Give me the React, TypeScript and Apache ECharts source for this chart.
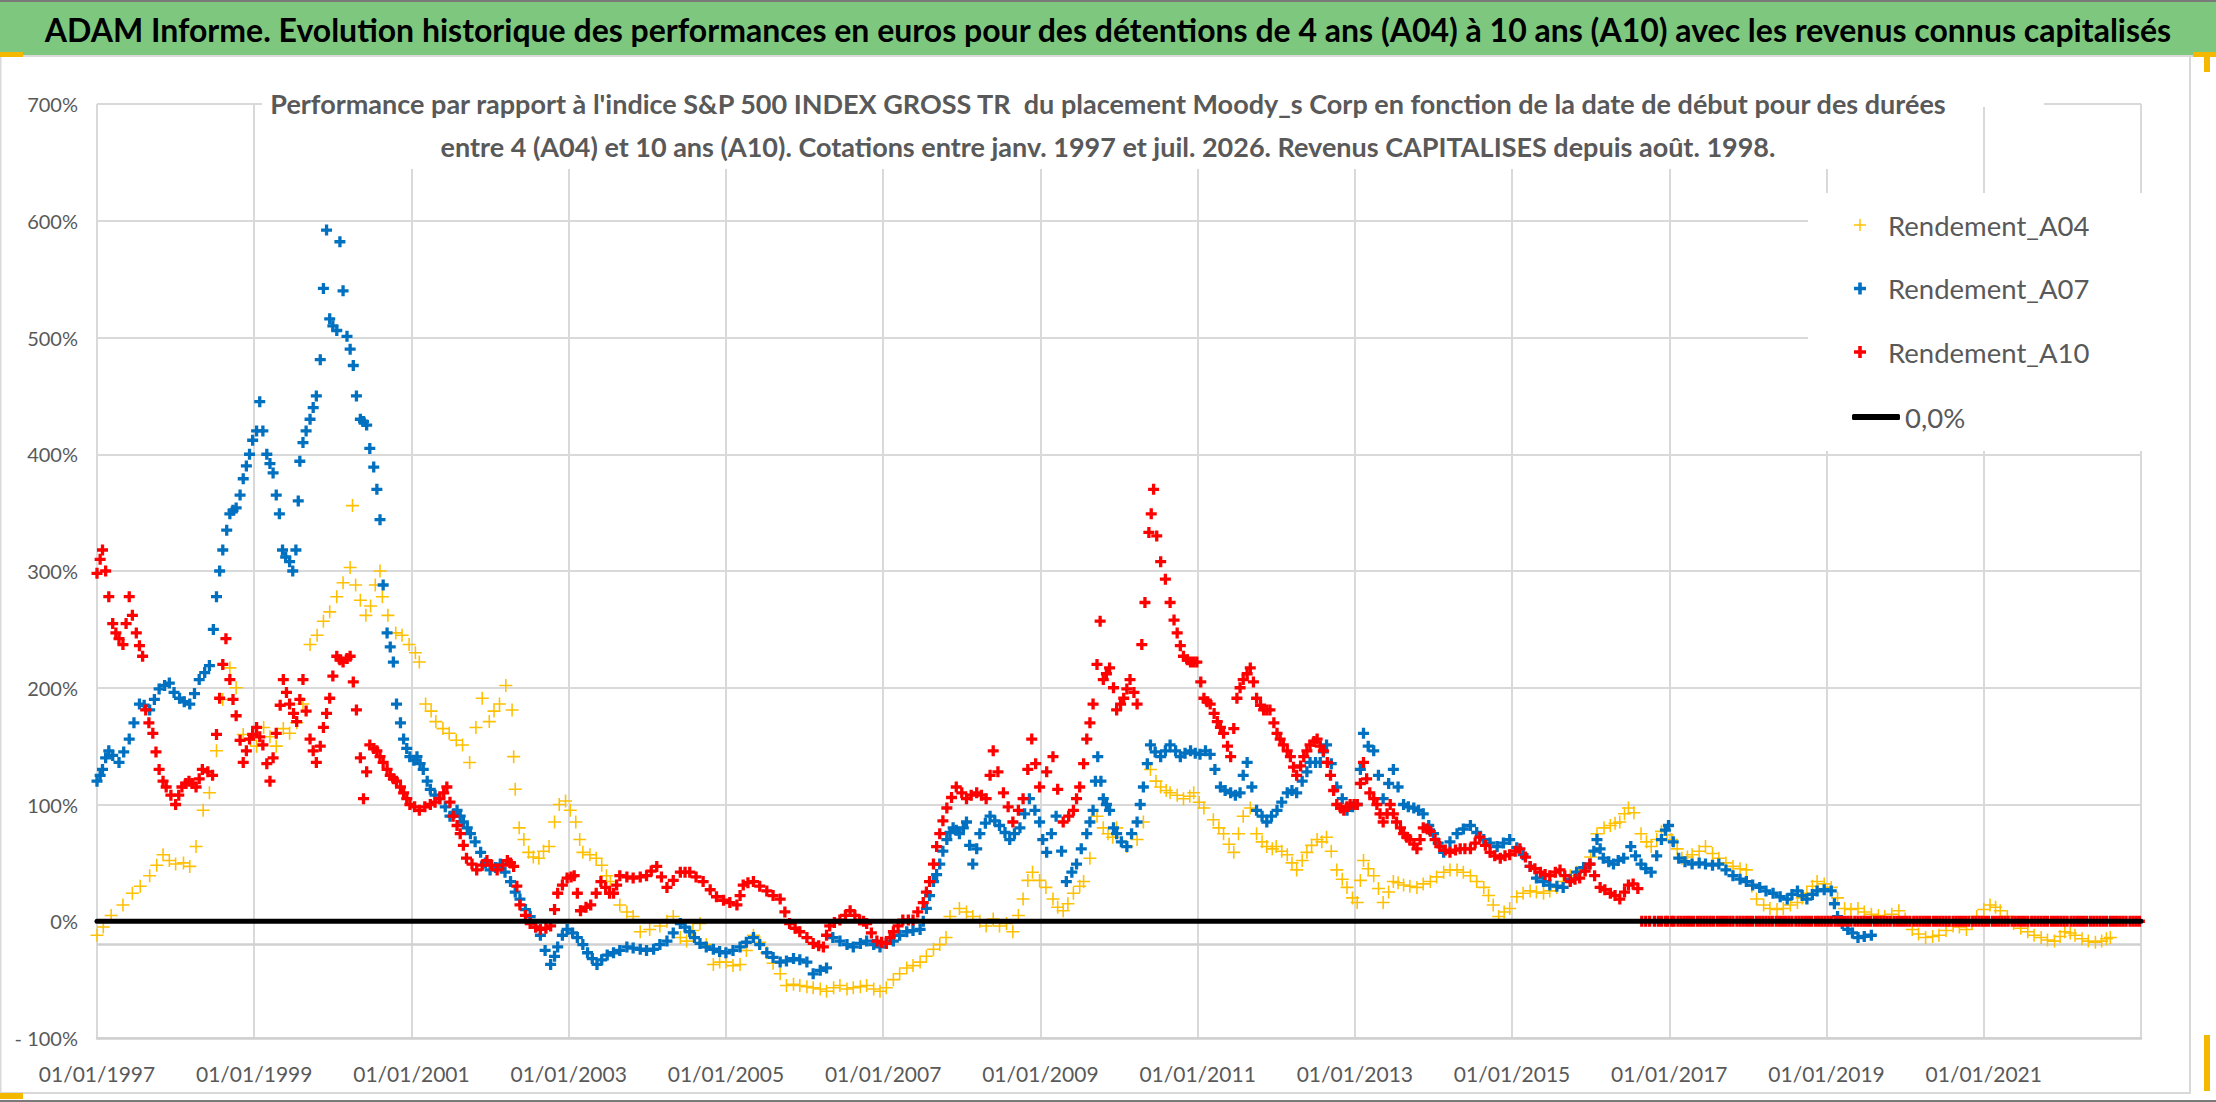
import React, { useEffect, useRef } from "react";
import * as echarts from "echarts";

const FONT = 'Lato, "Noto Sans", "DejaVu Sans", sans-serif';

const mainTitle =
  "ADAM Informe. Evolution historique des performances en euros pour des détentions de 4 ans (A04) à 10 ans (A10) avec les revenus connus capitalisés";
const subTitleLines = [
  "Performance par rapport à l'indice S&P 500 INDEX GROSS TR  du placement Moody_s Corp en fonction de la date de début pour des durées",
  "entre 4 (A04) et 10 ans (A10). Cotations entre janv. 1997 et juil. 2026. Revenus CAPITALISES depuis août. 1998.",
];
const seriesNames = ["Rendement_A04", "Rendement_A07", "Rendement_A10"];
const zeroName = "0,0%";
const colors = ["#FFC000", "#0070C0", "#FF0000"];
const startYear = 1997;
const endYear = 2023;
const yMin = -100;
const yMax = 700;
const yStep = 100;
const refLineValue = -20;

// [years after 01/01/1997, performance %]
const a04 = [
  [0.0,-12],[0.08,-5],[0.18,5],[0.33,14],[0.45,24],[0.55,30],[0.67,39],[0.76,48],[0.84,57],[0.92,52],[1.0,49],[1.1,50],[1.18,47],[1.26,64],[1.35,95],[1.43,110],[1.52,146],[1.6,190],[1.69,217],[1.77,200],[1.86,160],[1.95,155],[2.03,150],[2.12,166],[2.2,158],[2.28,150],[2.37,165],[2.45,161],[2.54,170],[2.62,186],[2.71,237],[2.8,245],[2.88,257],[2.96,265],[3.05,278],[3.13,290],[3.22,303],[3.25,356],[3.29,288],[3.35,275],[3.42,262],[3.48,270],[3.54,288],[3.6,300],[3.63,278],[3.7,262],[3.8,247],[3.88,245],[3.97,237],[4.05,230],[4.1,222],[4.18,186],[4.25,180],[4.31,171],[4.4,165],[4.48,161],[4.57,155],[4.65,151],[4.74,136],[4.82,166],[4.9,191],[4.99,171],[5.05,180],[5.12,186],[5.2,202],[5.28,181],[5.3,141],[5.32,113],[5.37,80],[5.43,70],[5.49,59],[5.55,55],[5.62,54],[5.68,60],[5.75,64],[5.82,85],[5.88,100],[5.96,103],[6.02,95],[6.09,85],[6.14,70],[6.18,59],[6.27,57],[6.35,54],[6.42,48],[6.48,39],
  [6.53,34],[6.65,14],[6.74,8],[6.82,4],[6.91,-9],[7.03,-7],[7.16,-4],[7.25,0],[7.33,4],[7.42,-14],[7.5,-17],[7.58,-8],[7.67,-2],[7.75,-20],[7.84,-37],[7.92,-35],[8.0,-35],[8.09,-38],[8.18,-37],[8.26,-25],[8.35,-12],[8.43,-18],[8.52,-27],[8.6,-36],[8.69,-45],[8.77,-55],[8.86,-54],[8.94,-55],[9.03,-56],[9.11,-57],[9.2,-58],[9.28,-60],[9.37,-57],[9.45,-55],[9.54,-58],[9.62,-57],[9.71,-56],[9.79,-55],[9.88,-58],[9.96,-60],[10.04,-57],[10.13,-50],[10.21,-45],[10.3,-40],[10.38,-38],[10.47,-35],[10.55,-30],[10.64,-24],[10.72,-20],[10.8,-14],[10.85,4],[10.97,11],[11.06,8],[11.14,4],[11.23,0],[11.31,-4],[11.4,2],[11.48,-4],[11.57,-2],[11.65,-9],[11.72,5],[11.78,19],[11.84,35],[11.9,42],[11.99,35],[12.07,29],[12.16,19],[12.22,12],[12.29,9],[12.35,15],[12.42,24],[12.5,30],[12.55,34],[12.63,54],[12.72,90],[12.8,80],[12.86,75],[12.92,72],
  [12.97,80],[13.1,64],[13.23,70],[13.31,85],[13.4,130],[13.47,120],[13.53,115],[13.6,112],[13.65,110],[13.74,108],[13.82,105],[13.9,107],[13.95,110],[14.02,102],[14.08,97],[14.2,87],[14.27,80],[14.33,75],[14.4,66],[14.46,59],[14.52,75],[14.58,90],[14.67,97],[14.75,75],[14.82,68],[14.88,64],[14.95,62],[15.0,64],[15.07,60],[15.14,57],[15.2,50],[15.26,44],[15.33,52],[15.39,59],[15.45,65],[15.52,70],[15.58,68],[15.64,72],[15.7,60],[15.77,44],[15.84,36],[15.9,29],[15.97,20],[16.03,16],[16.07,35],[16.11,52],[16.17,45],[16.24,39],[16.3,28],[16.36,16],[16.43,25],[16.49,34],[16.55,33],[16.62,31],[16.7,30],[16.79,29],[16.87,32],[16.96,34],[17.04,38],[17.13,42],[17.21,44],[17.3,44],[17.38,42],[17.47,39],[17.55,34],[17.64,29],[17.7,22],[17.76,14],[17.83,4],[17.9,8],[17.97,11],[18.06,21],[18.14,24],[18.23,26],[18.31,25],[18.4,24],[18.48,26],[18.57,29],[18.65,34],[18.74,39],[18.82,42],[18.91,44],[19.0,55],[19.08,75],[19.17,80],[19.25,82],[19.31,84],[19.37,85],[19.43,92],[19.48,97],
  [19.55,93],[19.64,75],[19.71,68],[19.77,64],[19.84,70],[19.9,77],[19.97,74],[20.03,70],[20.1,62],[20.16,54],[20.23,55],[20.29,57],[20.38,60],[20.46,64],[20.55,58],[20.63,54],[20.72,50],[20.81,47],[20.9,45],[20.98,44],[21.05,30],[21.11,19],[21.2,14],[21.28,11],[21.37,10],[21.45,11],[21.54,14],[21.63,16],[21.69,20],[21.75,24],[21.82,30],[21.88,34],[21.97,32],[22.06,29],[22.14,20],[22.23,11],[22.31,10],[22.4,11],[22.48,8],[22.57,6],[22.66,5],[22.74,4],[22.83,6],[22.92,9],[23.0,2],[23.09,-7],[23.17,-11],[23.26,-14],[23.35,-13],[23.43,-12],[23.52,-8],[23.61,-4],[23.69,-5],[23.78,-7],[23.85,-2],[23.91,4],[24.0,10],[24.08,14],[24.15,12],[24.21,9],[24.3,4],[24.38,-2],[24.47,-6],[24.56,-9],[24.64,-12],[24.73,-14],[24.81,-16],[24.9,-17],[24.97,-13],[25.03,-9],[25.1,-10],[25.16,-12],[25.25,-15],[25.33,-17],[25.42,-18],[25.5,-17],[25.56,-15],[25.61,-14],
];

const a07 = [
  [0.0,120],[0.04,125],[0.07,130],[0.11,140],[0.15,146],[0.2,142],[0.28,136],[0.34,145],[0.41,156],[0.47,170],[0.54,186],[0.6,185],[0.67,181],[0.73,190],[0.79,199],[0.86,202],[0.92,204],[0.98,196],[1.05,191],[1.11,188],[1.18,186],[1.24,195],[1.3,207],[1.37,213],[1.43,219],[1.48,250],[1.52,278],[1.56,300],[1.6,318],[1.65,335],[1.69,349],[1.73,352],[1.77,354],[1.82,365],[1.86,379],[1.9,390],[1.94,400],[1.98,412],[2.03,420],[2.07,445],[2.11,420],[2.16,400],[2.2,392],[2.24,384],[2.28,365],[2.32,349],[2.36,318],[2.4,312],[2.45,308],[2.49,300],[2.53,318],[2.56,360],[2.58,394],[2.62,410],[2.66,420],[2.71,430],[2.75,440],[2.79,450],[2.84,481],[2.88,542],[2.92,592],[2.96,516],[3.0,510],[3.05,506],[3.09,582],[3.13,540],[3.18,501],[3.22,490],[3.26,476],[3.3,450],[3.35,430],[3.39,428],[3.43,425],[3.47,405],[3.52,389],[3.56,370],[3.6,344],[3.64,288],[3.69,247],[3.73,235],[3.77,222],[3.81,186],[3.86,170],[3.9,156],[3.94,148],[3.98,141],[4.03,138],[4.07,141],[4.11,135],[4.15,130],[4.2,120],[4.24,113],[4.3,108],[4.36,105],[4.43,98],[4.49,90],[4.54,92],[4.58,95],[4.62,90],[4.66,85],[4.71,80],[4.75,75],[4.81,68],[4.88,59],[4.94,50],[5.0,44],[5.07,46],[5.13,49],[5.19,42],[5.26,34],[5.32,25],[5.38,19],[5.45,10],[5.51,4],[5.58,-5],[5.64,-12],[5.7,-25],[5.77,-37],[5.82,-30],[5.86,-22],[5.92,-12],[5.98,-7],[6.05,-10],[6.11,-14],[6.18,-20],[6.24,-27],[6.3,-32],[6.36,-37],[6.42,-33],[6.49,-29],
  [6.57,-27],[6.65,-25],[6.74,-22],[6.82,-23],[6.91,-24],[6.99,-25],[7.08,-24],[7.16,-20],[7.25,-17],[7.33,-10],[7.42,-2],[7.48,-5],[7.54,-9],[7.6,-14],[7.67,-19],[7.75,-22],[7.84,-24],[7.92,-26],[8.0,-27],[8.09,-25],[8.18,-22],[8.26,-18],[8.35,-14],[8.43,-20],[8.52,-27],[8.6,-31],[8.69,-35],[8.77,-34],[8.86,-32],[8.94,-33],[9.03,-35],[9.11,-45],[9.2,-42],[9.28,-40],[9.36,-14],[9.45,-17],[9.54,-20],[9.62,-22],[9.71,-19],[9.79,-17],[9.88,-20],[9.96,-22],[10.04,-19],[10.13,-17],[10.21,-12],[10.3,-9],[10.38,-8],[10.47,-7],[10.51,0],[10.55,11],[10.59,22],[10.64,34],[10.68,40],[10.72,49],[10.76,60],[10.81,70],[10.85,76],[10.89,80],[10.93,78],[10.97,75],[11.02,80],[11.06,85],[11.1,65],[11.14,49],[11.19,62],[11.23,75],[11.3,84],[11.36,90],[11.42,86],[11.48,82],[11.55,76],[11.61,70],[11.67,75],[11.74,80],[11.8,92],[11.86,105],[11.93,95],[11.99,85],[12.03,70],[12.08,59],[12.14,75],[12.2,90],[12.27,60],[12.33,34],[12.4,42],[12.46,49],[12.52,62],[12.59,75],[12.63,85],[12.67,95],[12.7,120],[12.73,141],[12.77,120],[12.8,105],[12.84,100],[12.88,95],[12.93,80],
  [12.97,75],[13.03,68],[13.1,64],[13.16,75],[13.23,85],[13.27,100],[13.31,115],[13.36,135],[13.4,151],[13.46,145],[13.53,141],[13.59,146],[13.65,151],[13.72,146],[13.78,141],[13.84,144],[13.91,146],[13.97,144],[14.03,143],[14.1,146],[14.16,143],[14.22,130],[14.29,115],[14.35,112],[14.42,110],[14.48,108],[14.54,110],[14.58,125],[14.63,136],[14.69,115],[14.75,95],[14.82,90],[14.88,85],[14.94,90],[15.01,95],[15.07,102],[15.14,110],[15.2,112],[15.26,110],[15.33,120],[15.39,128],[15.43,136],[15.5,136],[15.56,136],[15.6,145],[15.64,151],[15.7,135],[15.77,115],[15.84,105],[15.9,95],[15.97,98],[16.03,100],[16.07,130],[16.11,161],[16.17,150],[16.24,146],[16.3,125],[16.36,105],[16.43,118],[16.49,130],[16.55,115],[16.62,100],[16.68,98],[16.75,97],[16.81,95],[16.87,92],[16.94,82],[17.0,75],[17.06,67],[17.13,59],[17.21,68],[17.3,75],[17.38,79],[17.47,82],[17.55,76],[17.64,70],[17.72,67],[17.81,64],[17.89,67],[17.97,70],[18.06,63],[18.14,57],[18.23,47],[18.31,37],[18.4,34],[18.48,31],[18.57,30],[18.65,29],[18.74,36],[18.82,42],[18.91,46],[18.99,49],[19.04,60],[19.08,70],[19.12,62],[19.16,54],[19.23,51],[19.29,49],[19.35,52],[19.42,54],
  [19.51,64],[19.57,56],[19.64,49],[19.7,45],[19.77,42],[19.84,56],[19.9,70],[19.95,78],[19.99,82],[20.05,68],[20.12,54],[20.2,51],[20.29,49],[20.38,50],[20.46,49],[20.55,48],[20.63,49],[20.72,44],[20.81,39],[20.9,36],[20.98,34],[21.06,31],[21.15,29],[21.23,26],[21.32,24],[21.41,21],[21.5,19],[21.56,23],[21.63,26],[21.69,22],[21.75,19],[21.82,23],[21.88,26],[21.97,27],[22.06,26],[22.1,15],[22.14,4],[22.2,-2],[22.27,-7],[22.33,-10],[22.4,-14],[22.48,-13],[22.57,-12],
];

const a10 = [
  [0.0,298],[0.04,310],[0.07,318],[0.11,300],[0.15,278],[0.2,255],[0.24,247],[0.28,242],[0.33,237],[0.37,255],[0.41,278],[0.45,262],[0.5,247],[0.54,236],[0.58,227],[0.62,181],[0.66,170],[0.71,161],[0.75,145],[0.79,130],[0.84,120],[0.88,115],[0.94,108],[1.0,100],[1.04,108],[1.08,115],[1.13,118],[1.17,120],[1.21,118],[1.26,115],[1.3,122],[1.34,130],[1.41,128],[1.47,125],[1.52,160],[1.56,191],[1.6,220],[1.64,242],[1.69,207],[1.73,190],[1.77,176],[1.82,155],[1.86,136],[1.9,146],[1.94,156],[1.98,160],[2.03,166],[2.07,158],[2.11,151],[2.16,135],[2.2,120],[2.24,140],[2.28,161],[2.33,185],[2.37,207],[2.41,196],[2.45,186],[2.5,178],[2.54,171],[2.58,190],[2.62,207],[2.66,180],[2.71,156],[2.75,146],[2.79,136],[2.84,150],[2.88,166],[2.92,178],[2.96,191],[3.0,210],[3.05,227],[3.09,224],[3.13,222],[3.18,225],[3.22,227],[3.26,205],[3.3,181],[3.35,140],[3.39,105],[3.43,128],[3.47,151],[3.52,148],[3.56,146],[3.6,141],[3.64,136],[3.69,130],[3.73,125],[3.77,122],[3.81,120],[3.86,115],[3.9,110],[3.94,105],[3.98,100],[4.04,98],[4.1,95],[4.17,98],[4.24,100],[4.3,102],[4.36,105],[4.41,110],[4.45,115],[4.49,102],[4.53,90],[4.58,82],[4.62,75],[4.66,65],[4.7,54],[4.77,49],[4.83,44],[4.9,48],[4.96,52],[5.02,48],[5.09,44],[5.16,48],[5.22,52],[5.26,50],[5.3,47],[5.34,30],[5.38,14],[5.45,5],[5.51,-2],[5.58,-5],[5.64,-7],[5.71,-6],[5.77,-4],[5.82,10],[5.86,24],[5.92,31],[5.98,37],[6.03,38],[6.07,39],[6.11,24],[6.15,9],[6.22,12],[6.28,14],[6.35,24],[6.41,34],[6.47,29],
  [6.52,24],[6.57,24],[6.61,31],[6.65,39],[6.74,38],[6.82,37],[6.91,38],[6.99,39],[7.05,43],[7.12,47],[7.18,38],[7.25,29],[7.33,35],[7.42,42],[7.48,42],[7.54,42],[7.62,38],[7.71,34],[7.8,27],[7.88,21],[7.97,18],[8.05,16],[8.14,14],[8.18,22],[8.22,31],[8.28,33],[8.35,34],[8.43,30],[8.52,26],[8.6,22],[8.69,19],[8.75,8],[8.81,-2],[8.88,-6],[8.94,-9],[9.03,-14],[9.11,-19],[9.18,-21],[9.24,-22],[9.28,-12],[9.32,-4],[9.38,-1],[9.45,1],[9.52,5],[9.58,9],[9.64,5],[9.7,1],[9.75,0],[9.79,-2],[9.85,-10],[9.92,-17],[9.98,-18],[10.04,-19],[10.09,-14],[10.13,-9],[10.19,-4],[10.25,1],[10.32,1],[10.38,1],[10.44,8],[10.51,16],[10.55,25],[10.59,34],[10.64,49],[10.68,64],[10.72,75],[10.76,86],[10.81,97],[10.87,106],[10.93,115],[11.0,110],[11.06,105],[11.12,108],[11.19,110],[11.25,108],[11.31,105],[11.36,125],[11.4,146],[11.46,128],[11.53,110],[11.59,98],[11.65,85],[11.72,95],[11.78,105],[11.84,130],[11.89,156],[11.94,135],[11.99,115],[12.08,128],[12.16,141],[12.22,113],[12.29,85],[12.36,90],[12.42,95],[12.46,105],[12.5,115],[12.55,135],[12.59,156],[12.63,170],[12.67,186],[12.72,220],[12.76,257],[12.8,207],[12.84,212],[12.88,217],[12.93,200],
  [12.97,181],[13.02,186],[13.06,191],[13.1,199],[13.14,207],[13.19,196],[13.23,186],[13.29,237],[13.33,273],[13.38,333],[13.41,349],[13.44,370],[13.48,330],[13.53,308],[13.59,293],[13.65,273],[13.7,258],[13.74,247],[13.78,236],[13.82,227],[13.87,224],[13.91,222],[13.95,222],[13.99,222],[14.04,205],[14.08,191],[14.12,188],[14.16,186],[14.21,178],[14.25,171],[14.29,166],[14.33,161],[14.38,150],[14.42,141],[14.46,165],[14.5,191],[14.54,200],[14.58,207],[14.63,212],[14.67,217],[14.71,205],[14.75,191],[14.8,185],[14.84,181],[14.88,181],[14.92,181],[14.97,170],[15.01,161],[15.05,156],[15.09,151],[15.14,146],[15.18,141],[15.22,132],[15.26,125],[15.31,133],[15.35,141],[15.39,146],[15.43,151],[15.48,154],[15.52,156],[15.56,150],[15.6,146],[15.65,136],[15.69,125],[15.73,112],[15.77,100],[15.82,97],[15.86,95],[15.9,98],[15.94,100],[15.99,100],[16.03,100],[16.07,118],[16.11,136],[16.15,122],[16.19,110],[16.24,105],[16.28,100],[16.32,92],[16.36,85],[16.41,92],[16.45,100],[16.49,92],[16.53,85],[16.58,80],[16.62,75],[16.66,72],[16.7,70],[16.75,66],[16.79,62],[16.83,70],[16.87,80],[16.92,79],[16.96,77],[17.02,70],[17.08,64],[17.15,61],[17.21,59],[17.28,61],[17.34,62],[17.4,62],[17.47,62],[17.53,67],[17.59,72],[17.66,65],[17.72,59],[17.78,56],[17.85,54],[17.91,56],[17.97,57],[18.04,60],[18.1,62],[18.17,55],[18.23,47],[18.29,45],[18.36,42],[18.42,40],[18.48,39],[18.55,42],[18.61,44],[18.67,39],[18.74,34],[18.8,36],[18.86,37],[18.93,43],[18.99,49],[19.05,39],[19.12,29],[19.18,27],[19.25,24],[19.31,22],[19.37,19],[19.43,25],[19.48,31],[19.54,32],[19.6,28],
];

// dates (years after 01/01/1997) where Rendement_A10 is shown at 0 (no 10-year horizon yet)
const a10ZeroDates = [
  19.65,19.7,19.75,19.81,19.86,19.9,19.95,19.98,20.03,20.06,20.11,20.15,20.19,20.23,20.27,20.31,20.36,20.4,20.44,20.48,20.52,20.56,20.61,20.65,20.69,20.73,20.77,20.81,20.86,20.9,20.94,20.98,21.02,21.06,21.11,21.15,21.19,21.23,21.27,21.31,21.36,21.4,21.44,21.48,21.52,21.56,21.61,21.65,21.69,21.73,21.77,21.81,21.86,21.9,21.94,21.98,22.02,22.06,22.11,22.15,22.19,22.23,22.27,22.31,22.36,22.4,22.44,22.48,22.52,22.56,22.61,22.65,22.69,22.73,22.77,22.81,22.86,22.9,22.94,22.98,23.02,23.06,23.11,23.15,23.19,23.23,23.27,23.31,23.36,23.4,23.44,23.48,23.52,23.56,23.61,23.65,23.69,23.73,23.77,23.81,23.86,23.9,23.94,23.98,24.02,24.06,24.11,24.15,24.19,24.23,24.27,24.31,24.36,24.4,24.44,24.48,24.52,24.56,24.61,24.65,24.69,24.73,24.77,24.81,24.86,24.9,24.94,24.98,25.02,25.06,25.11,25.15,25.19,25.23,25.27,25.31,25.36,25.4,25.44,25.48,25.52,25.56,25.61,25.65,25.69,25.73,25.77,25.81,25.86,25.9,25.94,25.98,
];

const PLUS_THIN = "path://M4.4,0h1.2v10h-1.2zM0,4.4h10v1.2h-10z";
const PLUS_BOLD = "path://M3.5,0h3v10h-3zM0,3.5h10v3h-10z";

const toPoints = (arr: number[][]) => arr.map(([t, v]) => [startYear + t, v]);

export default function App() {
  const ref = useRef<HTMLDivElement>(null);

  useEffect(() => {
    if (!ref.current) return;
    const chart = echarts.init(ref.current, undefined, { renderer: "svg" });
    const a10Points = toPoints(a10).concat(a10ZeroDates.map((t) => [startYear + t, 0]));

    const option: any = {
      animation: false,
      backgroundColor: "#ffffff",
      title: [
        {
          text: mainTitle,
          left: "center",
          top: 3,
          textStyle: { fontFamily: FONT, fontSize: 32, fontWeight: "bold", color: "#000000", lineHeight: 42 },
        },
        {
          text: subTitleLines.join("\n"),
          left: "center",
          top: 77,
          textStyle: { fontFamily: FONT, fontSize: 27, fontWeight: "bold", color: "#595959", lineHeight: 43 },
        },
      ],
      grid: { left: 97, right: 75, top: 104, bottom: 64, containLabel: false },
      xAxis: {
        type: "value",
        min: startYear,
        max: endYear,
        interval: 2,
        axisLine: { show: true, onZero: false, lineStyle: { color: "#d0d0d0", width: 2.5 } },
        axisTick: { show: false },
        splitLine: { show: true, lineStyle: { color: "#d9d9d9", width: 2 } },
        axisLabel: {
          formatter: (v: number) => "01/01/" + v,
          showMaxLabel: false,
          color: "#595959",
          fontFamily: FONT,
          fontSize: 21,
          margin: 25,
        },
      },
      yAxis: {
        type: "value",
        min: yMin,
        max: yMax,
        interval: yStep,
        axisLine: { show: false },
        axisTick: { show: false },
        splitLine: { show: true, lineStyle: { color: "#d9d9d9", width: 2 } },
        axisLabel: {
          formatter: (v: number) => (v < 0 ? "- " + -v + "%" : v + "%"),
          color: "#595959",
          fontFamily: FONT,
          fontSize: 20,
          margin: 19,
        },
      },
      legend: [
        {
          orient: "vertical",
          left: 1849,
          top: 203,
          itemWidth: 46,
          itemHeight: 12,
          itemGap: 29.5,
          data: seriesNames.map((n) => ({ name: n, icon: n === seriesNames[0] ? PLUS_THIN : PLUS_BOLD })),
          textStyle: { fontFamily: FONT, fontSize: 27.5, color: "#595959", lineHeight: 34 },
        },
        {
          orient: "vertical",
          left: 1847,
          top: 395,
          itemWidth: 48,
          itemHeight: 6,
          data: [{ name: zeroName, icon: "roundRect" }],
          textStyle: { fontFamily: FONT, fontSize: 27.5, color: "#595959", lineHeight: 34 },
        },
      ],
      graphic: [
        { type: "rect", z: 0, shape: { x: 0, y: 0, width: 2216, height: 55 }, style: { fill: "#7DC87E" } },
        { type: "rect", z: 0, shape: { x: 0, y: 0, width: 2216, height: 2 }, style: { fill: "#7a7a7a" } },
        { type: "rect", z: 0, shape: { x: 0, y: 55, width: 2216, height: 2 }, style: { fill: "#d9d9d9" } },
        { type: "rect", z: 0, shape: { x: 2189, y: 57, width: 2, height: 1036 }, style: { fill: "#d9d9d9" } },
        { type: "rect", z: 0, shape: { x: 0, y: 1092, width: 2191, height: 2 }, style: { fill: "#d9d9d9" } },
        { type: "rect", z: 0, shape: { x: 0, y: 57, width: 1.5, height: 1036 }, style: { fill: "#d9d9d9" } },
        { type: "rect", z: 0, shape: { x: 0, y: 1100, width: 2216, height: 2 }, style: { fill: "#7a7a7a" } },
        { type: "rect", z: 1, shape: { x: 0, y: 52, width: 23, height: 5 }, style: { fill: "#F5B800" } },
        { type: "rect", z: 1, shape: { x: 2193, y: 52, width: 23, height: 5 }, style: { fill: "#F5B800" } },
        { type: "rect", z: 1, shape: { x: 2204, y: 52, width: 6, height: 20 }, style: { fill: "#F5B800" } },
        { type: "rect", z: 1, shape: { x: 2204, y: 1035, width: 6, height: 56 }, style: { fill: "#F5B800" } },
        { type: "rect", z: 1, shape: { x: 0, y: 1093, width: 23, height: 6 }, style: { fill: "#F5B800" } },
        { type: "rect", z: 1, shape: { x: 262, y: 70, width: 1782, height: 37 }, style: { fill: "#ffffff" } },
        { type: "rect", z: 1, shape: { x: 262, y: 107, width: 1638, height: 62 }, style: { fill: "#ffffff" } },
        { type: "rect", z: 1, shape: { x: 1808, y: 193, width: 336, height: 258 }, style: { fill: "#ffffff" } },
      ],
      series: [
        {
          type: "line",
          name: "ref",
          silent: true,
          symbol: "none",
          data: [[startYear, refLineValue], [endYear, refLineValue]],
          lineStyle: { color: "#d0d0d0", width: 2.5 },
          z: 1,
        },
        {
          type: "scatter",
          name: seriesNames[0],
          data: toPoints(a04),
          symbol: PLUS_THIN,
          symbolSize: 13,
          itemStyle: { color: colors[0], opacity: 1 },
        },
        {
          type: "scatter",
          name: seriesNames[1],
          data: toPoints(a07),
          symbol: PLUS_BOLD,
          symbolSize: 11,
          itemStyle: { color: colors[1], opacity: 1 },
        },
        {
          type: "line",
          name: zeroName,
          data: [[startYear, 0], [endYear, 0]],
          symbol: "none",
          itemStyle: { color: "#000000" },
          lineStyle: { color: "#000000", width: 5, cap: "round" },
        },
        {
          type: "scatter",
          name: seriesNames[2],
          data: a10Points,
          symbol: PLUS_BOLD,
          symbolSize: 11,
          itemStyle: { color: colors[2], opacity: 1 },
        },
      ],
    };
    chart.setOption(option);
    return () => chart.dispose();
  }, []);

  return (
    <div
      ref={ref}
      style={{ position: "fixed", left: 0, top: 0, width: 2216, height: 1102, background: "#fff" }}
    />
  );
}
